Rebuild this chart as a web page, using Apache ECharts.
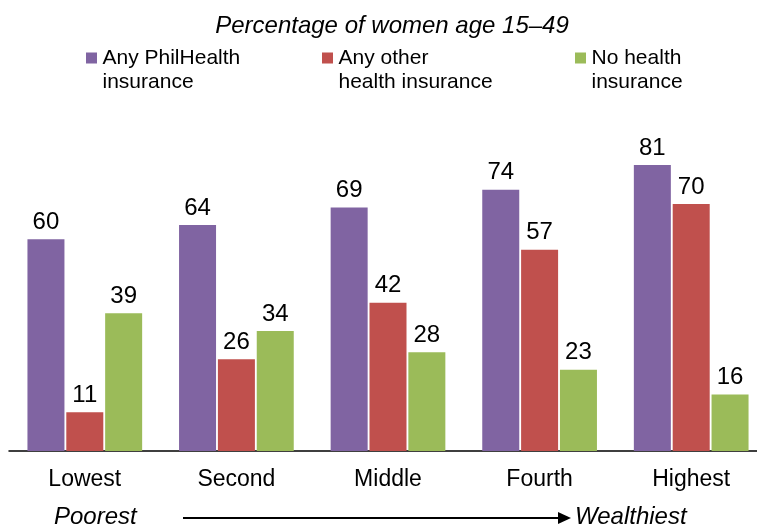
<!DOCTYPE html>
<html>
<head>
<meta charset="utf-8">
<script src="https://cdn.jsdelivr.net/npm/echarts@6/dist/echarts.min.js"></script>
<style>html,body{margin:0;padding:0;background:#fff;overflow:hidden;width:757px;height:530px}#c{width:768px;height:530px}</style>
</head>
<body>
<div id="c"></div>
<script>
var categories = ['Lowest', 'Second', 'Middle', 'Fourth', 'Highest'];
var seriesNames = ['Any PhilHealth\ninsurance', 'Any other\nhealth insurance', 'No health\ninsurance'];
var philHealth = [60, 64, 69, 74, 81];
var otherInsurance = [11, 26, 42, 57, 70];
var noInsurance = [39, 34, 28, 23, 16];
var colors = ['#8064A2', '#C0504D', '#9BBB59'];
var titleText = 'Percentage of women age 15\u201349';
var leftNote = 'Poorest';
var rightNote = 'Wealthiest';

var FONT = '"Liberation Sans", Arial, sans-serif';
var chart = echarts.init(document.getElementById('c'), null, {renderer: 'canvas'});

// square icon aligned with the first text line (tiny invisible tail extends the icon box)
var ICON = 'path://M0,0L11,0L11,11L0,11Z M0,34.99L0.01,34.99L0.01,35L0,35Z';

function legendAt(name, left) {
  return {
    data: [name], left: left, top: 46, padding: 0,
    icon: ICON, itemWidth: 12, itemHeight: 35,
    textStyle: {fontFamily: FONT, fontSize: 21, color: '#000', lineHeight: 24}
  };
}

function barSeries(name, data, color) {
  return {
    type: 'bar', name: name, data: data, barWidth: 37, barGap: '5%',
    itemStyle: {color: color},
    label: {show: true, position: 'top', distance: 5, fontFamily: FONT, fontSize: 24, color: '#000'}
  };
}

chart.setOption({
  animation: false,
  color: colors,
  title: {
    text: titleText, left: 387, top: 9, textAlign: 'center',
    textStyle: {fontFamily: FONT, fontSize: 24, fontStyle: 'italic', fontWeight: 'normal', color: '#000'}
  },
  legend: [legendAt(seriesNames[0], 86), legendAt(seriesNames[1], 322), legendAt(seriesNames[2], 575)],
  grid: {left: 9, right: 1, top: 98, height: 353},
  xAxis: {
    type: 'category', data: categories,
    axisTick: {show: false},
    axisLine: {lineStyle: {color: '#000', width: 1.5}},
    axisLabel: {fontFamily: FONT, fontSize: 23, color: '#000', margin: 17}
  },
  yAxis: {type: 'value', min: 0, max: 100, show: false, splitLine: {show: false}},
  series: [
    barSeries(seriesNames[0], philHealth, colors[0]),
    barSeries(seriesNames[1], otherInsurance, colors[1]),
    barSeries(seriesNames[2], noInsurance, colors[2])
  ],
  graphic: [
    {type: 'text', left: 54, top: 505, style: {text: leftNote, font: 'italic 24px ' + FONT, fill: '#000'}},
    {type: 'line', shape: {x1: 183, y1: 518, x2: 562, y2: 518}, style: {stroke: '#000', lineWidth: 2.2}},
    {type: 'polygon', shape: {points: [[558, 512], [571, 518], [558, 524]]}, style: {fill: '#000'}},
    {type: 'text', left: 575, top: 505, style: {text: rightNote, font: 'italic 24px ' + FONT, fill: '#000'}}
  ]
});
</script>
</body>
</html>
